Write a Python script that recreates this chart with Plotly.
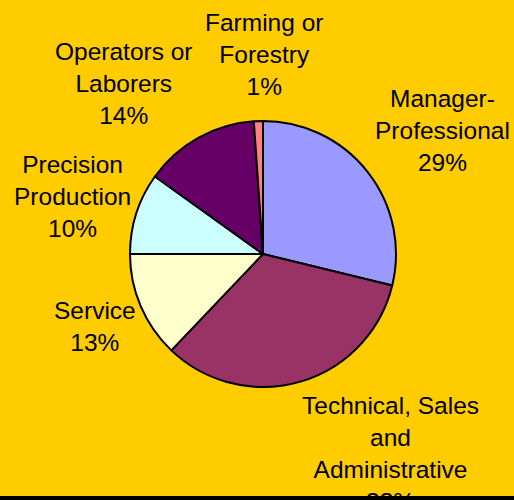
import plotly.graph_objects as go

# Data
categories = ["Manager-Professional", "Technical, Sales and Administrative", "Service",
              "Precision Production", "Operators or Laborers", "Farming or Forestry"]
label_lines = ["Manager-<br>Professional", "Technical, Sales<br>and<br>Administrative", "Service",
               "Precision<br>Production", "Operators or<br>Laborers", "Farming or<br>Forestry"]
values = [28.8, 33.3, 12.9, 9.9, 14.0, 1.1]
colors = ["#9999FF", "#993366", "#FFFFCC", "#CCFFFF", "#660066", "#FF8080"]

# label anchor positions (pixels in the 514x500 canvas)
label_px = [(442, 130), (390, 453), (95, 326), (72, 196), (124, 83), (264, 55)]

W, H = 514, 500
cx, cy, r = 263, 254, 133

fig = go.Figure(go.Pie(
    labels=categories, values=values, sort=False, direction="clockwise", rotation=0,
    marker=dict(colors=colors, line=dict(color="black", width=2)),
    textinfo="none", hoverinfo="label+percent", showlegend=False,
    domain=dict(x=[(cx - r) / W, (cx + r) / W], y=[(H - cy - r) / H, (H - cy + r) / H]),
))

total = sum(values)
for lab, v, (px, py) in zip(label_lines, values, label_px):
    fig.add_annotation(
        text=f"{lab}<br>{round(v / total * 100)}%", x=px / W, y=1 - py / H,
        xref="paper", yref="paper", xanchor="center", yanchor="middle",
        showarrow=False, align="center",
        font=dict(family="Liberation Sans, Arial, sans-serif", size=24.5, color="black"),
    )

# bottom black border strip
fig.add_annotation(text=" ", x=0, y=0, xref="paper", yref="paper", xanchor="left", yanchor="bottom",
                   showarrow=False, width=W, height=4, bgcolor="black", borderpad=0, borderwidth=0,
                   font=dict(size=1))

fig.update_layout(
    width=W, height=H, margin=dict(l=0, r=0, t=0, b=0),
    paper_bgcolor="#FFCC00", plot_bgcolor="#FFCC00",
)
fig.write_html("out.html", config={"displayModeBar": False},
               post_script="document.body.style.margin='0';document.body.style.overflow='hidden';"
                           "document.body.style.background='#FFCC00';")
